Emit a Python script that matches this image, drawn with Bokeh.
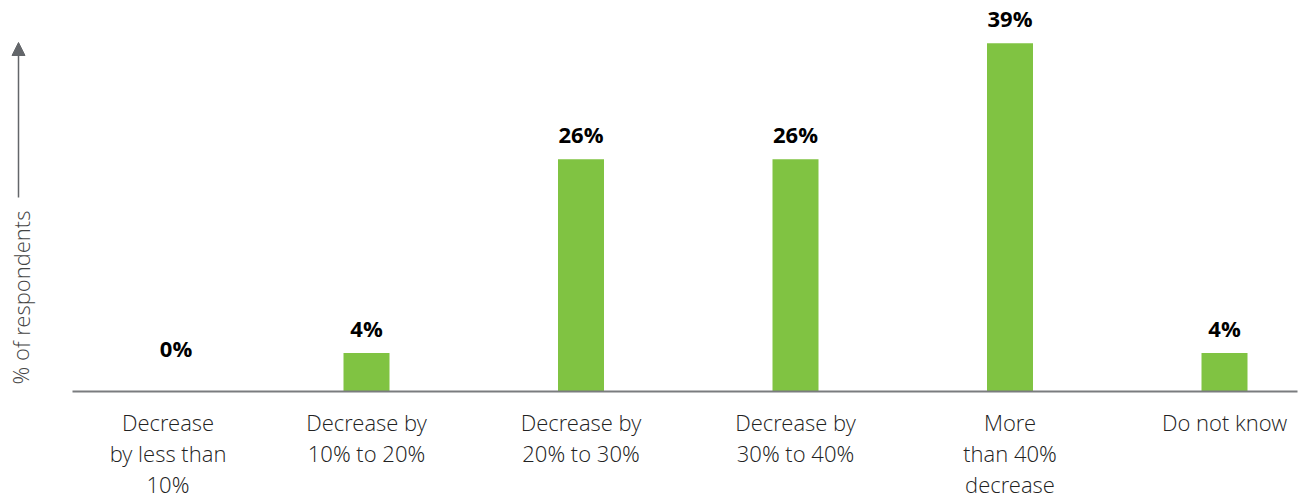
from bokeh.plotting import figure
from bokeh.models import ColumnDataSource, Range1d, Arrow, NormalHead
from bokeh.core.properties import value
from bokeh.embed import file_html
from bokeh.resources import INLINE

# ---- data ----
categories = [
    "Decrease\nby less than\n10%",
    "Decrease by\n10% to 20%",
    "Decrease by\n20% to 30%",
    "Decrease by\n30% to 40%",
    "More\nthan 40%\ndecrease",
    "Do not know",
]
values = [0, 4.3, 26, 26, 39, 4.3]
value_labels = ["0%", "4%", "26%", "26%", "39%", "4%"]
y_axis_title = "% of respondents"

# ---- layout constants ----
W, H = 1305, 499
PX_X0, PX_STEP = 151.5, 214.5      # pixel position of category 0 and spacing
BASE_PX, PX_PER_UNIT = 391.0, 8.93  # baseline pixel (from top) and px per %

def xd(px):
    return (px - PX_X0) / PX_STEP

def yd(px):
    return (BASE_PX - px) / PX_PER_UNIT

GREEN = "#80C342"
GRAY = "#7A7C7F"
FONT = "Open Sans"
LIGHT = "'Open Sans Light', 'Open Sans'"

xs = list(range(len(categories)))
# small nudges of labels for the first (empty) category
label_dx = [24 if v == 0 else 0 for v in values]
cat_dx = [16 if i == 0 else 0 for i in xs]
label_dy = [-44 if v == 0 else -25 for v in values]

src = ColumnDataSource(dict(x=xs, v=values, lab=value_labels, cat=categories,
                            ldx=label_dx, cdx=cat_dx, ldy=label_dy))

p = figure(width=W, height=H, output_backend="svg", toolbar_location=None,
           x_axis_type=None, y_axis_type=None, min_border=0,
           x_range=Range1d(xd(0), xd(W)), y_range=Range1d(yd(H), yd(0)))
p.outline_line_color = None
p.xgrid.visible = False
p.ygrid.visible = False
p.background_fill_color = "white"
p.border_fill_color = "white"

# bars
p.vbar(x="x", top="v", bottom=0, width=46 / PX_STEP, source=src,
       fill_color=GREEN, line_color=None)

# baseline
p.segment(x0=[xd(72)], y0=[0], x1=[xd(1297)], y1=[0], line_color=GRAY, line_width=2)

# value labels
p.text(x="x", y="v", text="lab", source=src, x_offset="ldx", y_offset="ldy",
       text_font=value(FONT), text_font_style="bold", text_font_size="22px",
       text_color="#000000", text_align="center", text_baseline="alphabetic")

# category labels
p.text(x="x", y=0, text="cat", source=src, x_offset="cdx", y_offset=15,
       text_font=value(LIGHT), text_font_size="22px", text_color="#222222",
       text_align="center", text_baseline="top", text_line_height=1.04)

# y-axis title with arrow
p.text(x=[xd(20)], y=[yd(297)], text=[y_axis_title], angle=1.5707963,
       text_font=value(LIGHT), text_font_size="22px", text_color="#444444",
       text_align="center", text_baseline="middle")
p.add_layout(Arrow(x_start=xd(18), y_start=yd(197), x_end=xd(18), y_end=yd(42),
                   line_color="#63666A", line_width=1.5,
                   end=NormalHead(size=13, fill_color="#63666A", line_color="#63666A")))

open("out.html", "w").write(file_html(p, INLINE))
